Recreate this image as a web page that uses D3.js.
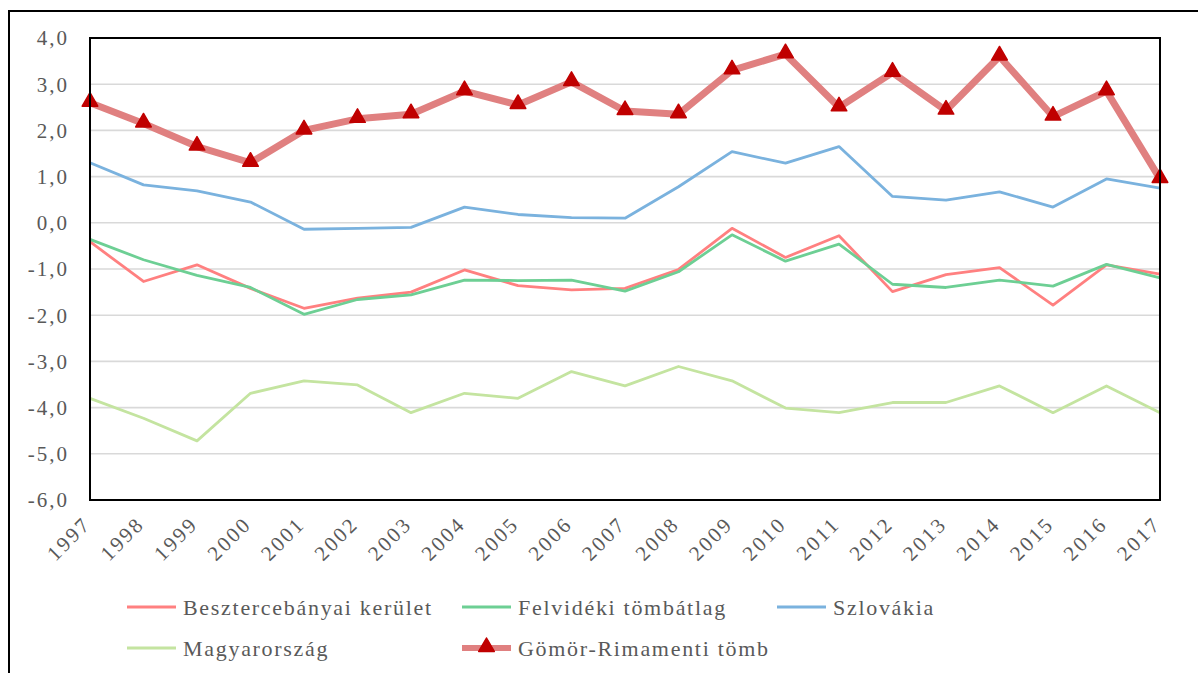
<!DOCTYPE html>
<html>
<head>
<meta charset="utf-8">
<script src="https://cdn.jsdelivr.net/npm/d3@7"></script>
<style>
  body { margin: 0; background: #fff; }
  svg text { font-family: "Liberation Serif", "Times New Roman", "DejaVu Serif", serif; fill: #595959; }
</style>
</head>
<body>
<svg id="chart" width="1198" height="673"></svg>
<script>
// data
var years = d3.range(1997, 2018);
var besztercebanya = [-0.41, -1.27, -0.91, -1.42, -1.85, -1.63, -1.50, -1.02, -1.36, -1.45, -1.42, -1.01, -0.12, -0.75, -0.28, -1.49, -1.12, -0.97, -1.78, -0.91, -1.11];
var felvidek = [-0.36, -0.80, -1.14, -1.40, -1.98, -1.66, -1.56, -1.24, -1.25, -1.24, -1.48, -1.06, -0.26, -0.83, -0.46, -1.33, -1.40, -1.24, -1.37, -0.90, -1.19];
var szlovakia = [1.30, 0.82, 0.69, 0.45, -0.14, -0.12, -0.10, 0.34, 0.18, 0.11, 0.10, 0.78, 1.54, 1.29, 1.65, 0.57, 0.49, 0.67, 0.34, 0.95, 0.75];
var magyarorszag = [-3.80, -4.23, -4.72, -3.69, -3.42, -3.51, -4.11, -3.69, -3.80, -3.22, -3.53, -3.11, -3.42, -4.01, -4.11, -3.89, -3.89, -3.53, -4.11, -3.53, -4.11];
var gomor = [2.60, 2.15, 1.65, 1.30, 2.00, 2.25, 2.35, 2.85, 2.55, 3.05, 2.42, 2.35, 3.30, 3.65, 2.50, 3.25, 2.43, 3.60, 2.30, 2.85, 0.95];
var yTicks = d3.range(-6, 5, 1);

var series = [
  {name: "Besztercebányai kerület", values: besztercebanya, color: "#ff8080", width: 2.8},
  {name: "Felvidéki tömbátlag", values: felvidek, color: "#6dcf94", width: 2.8},
  {name: "Szlovákia", values: szlovakia, color: "#7ab2de", width: 2.8},
  {name: "Magyarország", values: magyarorszag, color: "#c4e4a0", width: 2.8},
  {name: "Gömör-Rimamenti tömb", values: gomor, color: "#e08080", width: 7, marker: true}
];

var svg = d3.select("#chart");
var margin = {top: 38, right: 38, bottom: 173, left: 90},
    width = 1198 - margin.left - margin.right,
    height = 673 - margin.top - margin.bottom;

// outer chart frame
svg.append("rect")
  .attr("x", 9).attr("y", 11)
  .attr("width", 1200).attr("height", 700)
  .attr("fill", "none").attr("stroke", "#000").attr("stroke-width", 2);

var g = svg.append("g").attr("transform", "translate(" + margin.left + "," + margin.top + ")");

var x = d3.scaleLinear().domain([1997, 2017]).range([0, width]);
var y = d3.scaleLinear().domain([-6, 4]).range([height, 0]);

// gridlines
g.selectAll(".grid")
  .data(yTicks)
  .enter().append("line")
  .attr("class", "grid")
  .attr("x1", 0).attr("x2", width)
  .attr("y1", function(d) { return y(d); })
  .attr("y2", function(d) { return y(d); })
  .attr("stroke", "#d9d9d9")
  .attr("stroke-width", 1.6);

// y labels
g.selectAll(".ylab")
  .data(yTicks)
  .enter().append("text")
  .attr("class", "ylab")
  .attr("x", -21)
  .attr("y", function(d) { return y(d); })
  .attr("dy", "0.35em")
  .attr("text-anchor", "end")
  .style("font-size", "21px")
  .style("letter-spacing", "2px")
  .text(function(d) { return d3.format(".1f")(d).replace(".", ",").replace("−", "-"); });

// x labels, rotated
g.selectAll(".xlab")
  .data(years)
  .enter().append("text")
  .attr("class", "xlab")
  .attr("transform", function(d) { return "translate(" + (x(d) - 3) + "," + (height + 20) + ") rotate(-45)"; })
  .attr("text-anchor", "end")
  .attr("dy", "0.35em")
  .style("font-size", "21px")
  .style("letter-spacing", "2.5px")
  .text(function(d) { return d; });

var line = d3.line()
  .x(function(d, i) { return x(years[i]); })
  .y(function(d) { return y(d); });

series.forEach(function(s) {
  g.append("path")
    .datum(s.values)
    .attr("d", line)
    .attr("fill", "none")
    .attr("stroke", s.color)
    .attr("stroke-width", s.width)
    .attr("stroke-linejoin", "round");
});

var tri = d3.symbol().type(d3.symbolTriangle).size(105);
g.selectAll(".marker")
  .data(gomor)
  .enter().append("path")
  .attr("class", "marker")
  .attr("d", tri)
  .attr("transform", function(d, i) { return "translate(" + x(years[i]) + "," + (y(d) - 1) + ")"; })
  .attr("fill", "#c00000")
  .attr("stroke", "#c00000")
  .attr("stroke-width", 1.5)
  .attr("stroke-linejoin", "round");

// plot frame on top
g.append("rect")
  .attr("width", width).attr("height", height)
  .attr("fill", "none").attr("stroke", "#000").attr("stroke-width", 2);

// legend
var legendPos = [
  {x: 127, y: 607}, {x: 462, y: 607}, {x: 777, y: 607},
  {x: 127, y: 648}, {x: 462, y: 648}
];
var leg = svg.selectAll(".legend")
  .data(series)
  .enter().append("g")
  .attr("class", "legend")
  .attr("transform", function(d, i) { return "translate(" + legendPos[i].x + "," + legendPos[i].y + ")"; });

leg.append("line")
  .attr("x1", 0).attr("x2", 49)
  .attr("stroke", function(d) { return d.color; })
  .attr("stroke-width", function(d) { return d.marker ? 6 : 2.8; });

leg.filter(function(d) { return d.marker; })
  .append("path")
  .attr("d", tri)
  .attr("transform", "translate(24.5,-1)")
  .attr("fill", "#c00000")
  .attr("stroke", "#c00000")
  .attr("stroke-width", 1.5)
  .attr("stroke-linejoin", "round");

leg.append("text")
  .attr("x", 56)
  .attr("dy", "0.35em")
  .style("font-size", "22px")
  .style("letter-spacing", "1.7px")
  .text(function(d) { return d.name; });
</script>
</body>
</html>
